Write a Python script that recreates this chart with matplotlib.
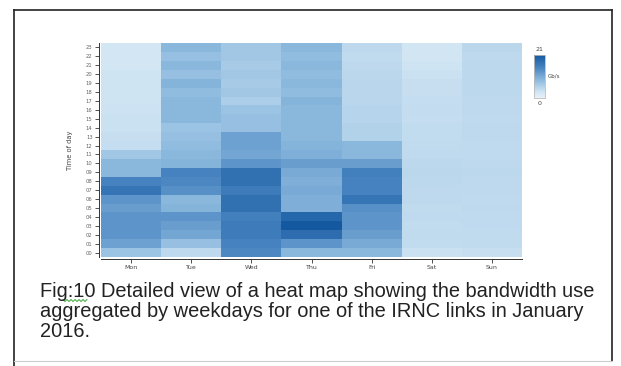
import numpy as np
import matplotlib.pyplot as plt
from matplotlib.colors import LinearSegmentedColormap
from matplotlib.lines import Line2D

days = ['Mon', 'Tue', 'Wed', 'Thu', 'Fri', 'Sat', 'Sun']
hours = ['%02d' % h for h in range(24)]

# average bandwidth (Gb/s), hour 00 -> 23
mon = [7.5, 11.5, 13, 13, 13, 12, 13, 17, 15, 9, 9, 7, 4, 3.8, 3.5, 3.5, 3.2, 3, 3, 3, 3, 2.5, 2.5, 2.5]
tue = [4.5, 8, 11, 12, 13, 9.5, 9, 13.5, 14.5, 15, 9.5, 9, 8.5, 8, 7.5, 9, 9, 9, 8.5, 9.5, 8, 9, 8, 9]
wed = [14.5, 15, 16, 16, 15.5, 17.5, 17.5, 16, 17.5, 17.5, 13, 11, 11.5, 11.5, 8, 8, 7.5, 6, 7, 6.5, 7, 6.5, 7, 7]
thu = [9, 13, 18, 21, 19, 10, 10, 10.5, 10, 10.5, 12, 10, 9.5, 9, 9, 9, 9, 9.5, 8.5, 9, 8.5, 9, 8.5, 9]
fri = [9, 10.5, 12, 13, 13, 13.5, 17, 15, 15, 15.5, 12, 9, 9, 5.5, 5.5, 5.2, 5.2, 5, 5, 5, 4.8, 4.5, 4.3, 4.5]
sat = [3.5, 4.2, 4.3, 4.2, 4.4, 4.3, 4.5, 4.5, 4.7, 4.8, 4.6, 4.4, 4.3, 4.2, 4.2, 4.0, 4.1, 4.0, 3.8, 3.8, 3.5, 3.0, 2.8, 2.8]
sun = [3.8, 4.3, 4.3, 4.4, 4.4, 4.5, 4.4, 4.5, 4.5, 4.6, 4.5, 4.4, 4.4, 4.5, 4.5, 4.4, 4.5, 4.5, 4.6, 4.6, 4.7, 4.6, 4.5, 4.8]
vmax = 21

caption_lines = ["Fig:10 Detailed view of a heat map showing the bandwidth use",
                 "aggregated by weekdays for one of the IRNC links in January",
                 "2016."]

grid = np.array([mon, tue, wed, thu, fri, sat, sun]).T

cmap = LinearSegmentedColormap.from_list(
    'bw', [(0, '#e6f1fa'), (3 / 21, '#cfe4f3'), (9 / 21, '#8ab8dd'),
           (15 / 21, '#4682c0'), (1, '#14599f')])

W, H = 621, 366
fig = plt.figure(figsize=(W / 100, H / 100), dpi=100)
fig.patch.set_facecolor('white')

ax = fig.add_axes([101 / W, 1 - 257 / H, 421 / W, 214 / H])
for s in ['top', 'right']:
    ax.spines[s].set_visible(False)
for s in ['left', 'bottom']:
    ax.spines[s].set_position(('outward', 1.5))
    ax.spines[s].set_linewidth(0.7)
    ax.spines[s].set_color('#333')

mesh = ax.pcolormesh(np.arange(8), np.arange(25), grid, cmap=cmap, vmin=0, vmax=vmax)
ax.set_xlim(0, 7)
ax.set_ylim(0, 24)
ax.set_xticks(np.arange(7) + 0.5)
ax.set_xticklabels(days)
ax.set_yticks(np.arange(24) + 0.5)
ax.set_yticklabels(hours)
ax.tick_params(length=3, width=0.6, pad=1.5, color='#333')
ax.tick_params(axis='x', labelsize=4.5, labelcolor='#444')
ax.tick_params(axis='y', labelsize=3.8, labelcolor='#666')
ax.set_ylabel('Time of day', fontsize=4.8, color='#444', labelpad=9)

# colour legend
cax = fig.add_axes([534 / W, 1 - 98 / H, 11 / W, 43 / H])
cb = fig.colorbar(mesh, cax=cax)
cb.set_ticks([])
cb.outline.set_edgecolor('#bbbbbb')
cb.outline.set_linewidth(0.6)
cax.text(0.5, 1.06, str(vmax), transform=cax.transAxes, ha='center', va='bottom',
         fontsize=4.5, color='#444')
cax.text(0.5, -0.08, '0', transform=cax.transAxes, ha='center', va='top',
         fontsize=4.5, color='#444')
cax.text(1.25, 0.5, 'Gb/s', transform=cax.transAxes, ha='left', va='center',
         fontsize=4, color='#444')

# caption below the chart, one text per line (baselines 297, 317, 337 px)
for i, line in enumerate(caption_lines):
    fig.text(40 / W, 1 - (297 + 20 * i) / H, line, ha='left', va='baseline',
             fontsize=14.4, family='Liberation Sans', color='#222')

# spell-check squiggle under ":10"
zx = np.linspace(63, 87, 13)
zy = 300.5 + np.where(np.arange(13) % 2 == 0, -1, 1)
fig.add_artist(Line2D(zx / W, 1 - zy / H, transform=fig.transFigure,
                      color='#3aa83a', linewidth=0.7))

# page frame
frame = dict(transform=fig.transFigure, color='#222', linewidth=1.2)
fig.add_artist(Line2D([14 / W, 14 / W], [1 - 10 / H, 0], **frame))
fig.add_artist(Line2D([14 / W, 612 / W], [1 - 10 / H, 1 - 10 / H], **frame))
fig.add_artist(Line2D([612 / W, 612 / W], [1 - 10 / H, 1 - 361 / H], **frame))
fig.add_artist(Line2D([14 / W, 612 / W], [1 - 361 / H, 1 - 361 / H],
                      transform=fig.transFigure, color='#cccccc', linewidth=0.8))

fig.savefig('out.png', dpi=100)
